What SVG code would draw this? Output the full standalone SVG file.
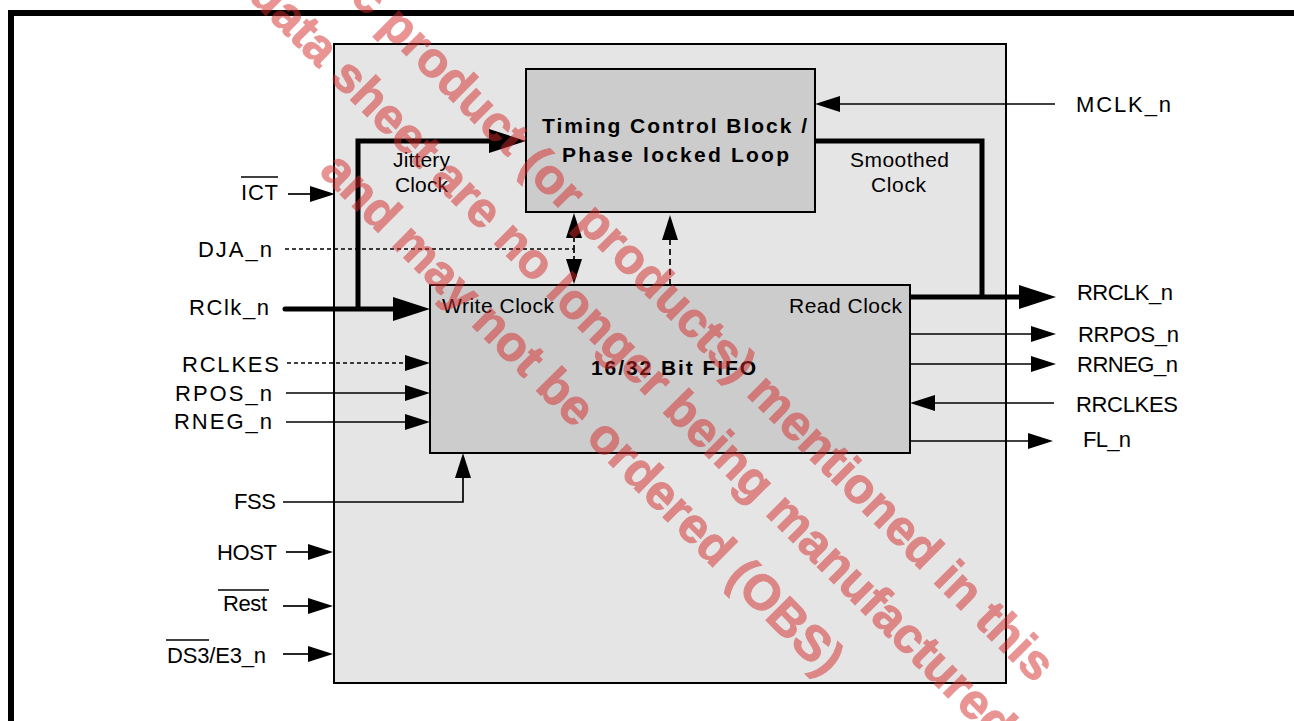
<svg xmlns="http://www.w3.org/2000/svg" width="1294" height="721" viewBox="0 0 1294 721">
<style>
.lbl{font-family:"Liberation Sans",Arial,sans-serif;font-size:22px;fill:#000}
.sm{font-size:21px}
.b{font-family:"Liberation Sans",Arial,sans-serif;font-weight:bold;font-size:21px;fill:#000}
.w{stroke:#000;stroke-width:1.7;fill:none}
.t{stroke-width:5}
.d{stroke-dasharray:4 3}
.ov{stroke:#000;stroke-width:1.5}
.box{stroke:#000;stroke-width:2}
.wm{font-family:"Liberation Sans",Arial,sans-serif;font-weight:bold;font-size:49.5px;fill:#d42a2a;stroke:#d42a2a;stroke-width:1}
</style>
<defs>
<marker id="a" markerUnits="userSpaceOnUse" markerWidth="25" markerHeight="16" viewBox="0 0 25 16" refX="0" refY="8" orient="auto"><path d="M0,0 L25,8 L0,16 z" fill="#000"/></marker>
<marker id="A" markerUnits="userSpaceOnUse" markerWidth="37" markerHeight="24" viewBox="0 0 37 24" refX="0" refY="12" orient="auto"><path d="M0,0 L37,12 L0,24 z" fill="#000"/></marker>
</defs>
<rect width="1294" height="721" fill="#fff"/>
<g id="frame"><path d="M11,721 V13 H1294" fill="none" stroke="#000" stroke-width="6"/></g>
<g id="chip"><rect class="box" x="334" y="44" width="672" height="639" fill="#e5e5e5"/></g>
<g id="timing"><rect class="box" x="526" y="69" width="289" height="143" fill="#cccccc"/>
<text class="b" x="542" y="133" textLength="265">Timing Control Block /</text>
<text class="b" x="562" y="162" textLength="227">Phase locked Loop</text></g>
<g id="fifo"><rect class="box" x="430" y="285" width="480" height="168" fill="#cccccc"/>
<text class="lbl sm" x="442" y="313" textLength="112">Write Clock</text>
<text class="lbl sm" x="789" y="313" textLength="113">Read Clock</text>
<text class="b" x="591" y="375" textLength="165">16/32 Bit FIFO</text></g>
<g id="connectors">
<path class="w" d="M288,194 H310" marker-end="url(#a)"/>
<path class="w d" d="M285,249 H574"/>
<path class="w" d="M574,249 V238" stroke-width="2" stroke-dasharray="4 3" marker-end="url(#a)"/>
<path class="w" d="M574,249 V259" stroke-width="2" stroke-dasharray="4 3" marker-end="url(#a)"/>
<path class="w" d="M670,285 V240" stroke-width="2.5" stroke-dasharray="6 4" marker-end="url(#a)"/>
<path class="w t" d="M358,309 V141 H489" marker-end="url(#A)"/>
<path class="w t" d="M285,309 H393" stroke-linecap="round" marker-end="url(#A)"/>
<path class="w d" d="M287,363 H405" marker-end="url(#a)"/>
<path class="w" d="M286,393 H405" marker-end="url(#a)"/>
<path class="w" d="M286,422 H405" marker-end="url(#a)"/>
<path class="w" d="M283,502 H463 V478" marker-end="url(#a)"/>
<path class="w" d="M286,552 H308" marker-end="url(#a)"/>
<path class="w" d="M283,606 H308" marker-end="url(#a)"/>
<path class="w" d="M283,654 H308" marker-end="url(#a)"/>
<path class="w" d="M1055,104 H840" marker-end="url(#a)"/>
<path class="w t" d="M815,141 H982 V297"/>
<path class="w t" d="M910,297 H1019" marker-end="url(#A)"/>
<path class="w" d="M910,334 H1031" marker-end="url(#a)"/>
<path class="w" d="M910,364 H1031" marker-end="url(#a)"/>
<path class="w" d="M1054,403 H935" marker-end="url(#a)"/>
<path class="w" d="M910,441 H1028" marker-end="url(#a)"/>
</g>
<g id="labels">
<text class="lbl sm" x="393" y="167" textLength="57">Jittery</text>
<text class="lbl sm" x="395" y="192" textLength="53">Clock</text>
<text class="lbl sm" x="850" y="167" textLength="99">Smoothed</text>
<text class="lbl sm" x="871" y="192" textLength="55">Clock</text>
<text class="lbl" x="241" y="200" textLength="37">ICT</text><line class="ov" x1="241" y1="177" x2="278" y2="177"/>
<text class="lbl" x="198" y="257" textLength="74">DJA_n</text>
<text class="lbl" x="189" y="315" textLength="80">RClk_n</text>
<text class="lbl" x="182" y="372" textLength="97">RCLKES</text>
<text class="lbl" x="175" y="401" textLength="97">RPOS_n</text>
<text class="lbl" x="174" y="429" textLength="98">RNEG_n</text>
<text class="lbl" x="234" y="509" textLength="42">FSS</text>
<text class="lbl" x="217" y="560" textLength="60">HOST</text>
<text class="lbl" x="223" y="611" textLength="44">Rest</text><line class="ov" x1="218" y1="590" x2="269" y2="590"/>
<text class="lbl" x="167" y="663" textLength="99">DS3/E3_n</text><line class="ov" x1="166" y1="640" x2="209" y2="640"/>
<text class="lbl" x="1076" y="112" textLength="95">MCLK_n</text>
<text class="lbl" x="1077" y="300" textLength="96">RRCLK_n</text>
<text class="lbl" x="1078" y="342" textLength="101">RRPOS_n</text>
<text class="lbl" x="1077" y="372" textLength="101">RRNEG_n</text>
<text class="lbl" x="1076" y="412" textLength="102">RRCLKES</text>
<text class="lbl" x="1083" y="447" textLength="48">FL_n</text>
</g>
<g id="watermark" transform="rotate(45)" opacity="0.5">
<text class="wm" x="245" y="-248">c product (or products) mentioned in this</text>
<text class="wm" x="172" y="-177">data sheet are no longer being manufactured</text>
<text class="wm" x="347" y="-103">and may not be ordered (OBS)</text>
</g>
</svg>
